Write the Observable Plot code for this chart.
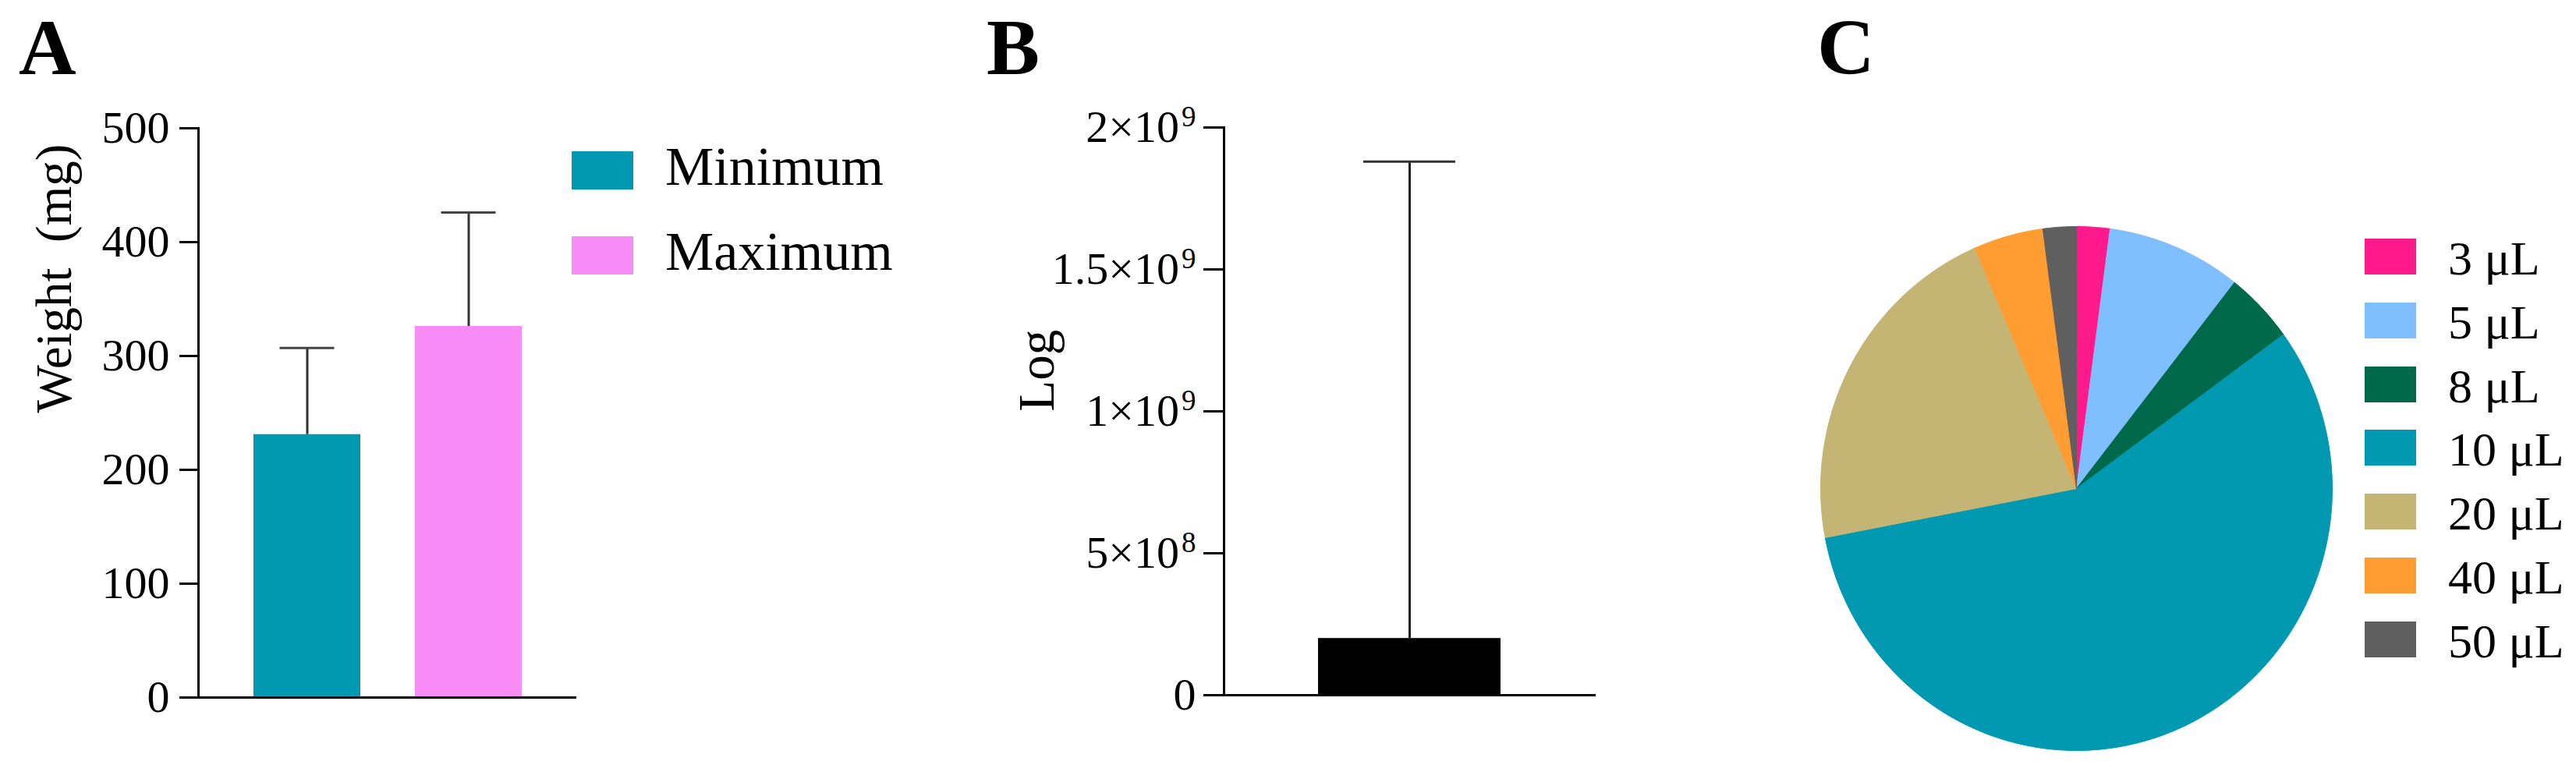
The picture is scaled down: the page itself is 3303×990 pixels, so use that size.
<!DOCTYPE html>
<html><head><meta charset="utf-8">
<script src="https://cdn.jsdelivr.net/npm/d3@7"></script>
<script src="https://cdn.jsdelivr.net/npm/@observablehq/plot@0.6"></script>
<style>
html,body{margin:0;padding:0;background:#fff;}
#page{position:relative;width:3303px;height:990px;overflow:hidden;background:#fff;font-family:"Liberation Serif","Times New Roman",serif;color:#000;}
.abs{position:absolute;}
.letter{position:absolute;font-weight:bold;font-size:102px;line-height:1;}
.sw{position:absolute;}
.lt{position:absolute;line-height:1;white-space:nowrap;}
</style></head><body><div id="page"></div>
<script>
const FONT = '"Liberation Serif","Times New Roman",serif';

// Panel A: weight
const weightGroups = ["Minimum", "Maximum"];
const weightMeans = [231, 326];
const weightSD = [76, 100];
const weightColors = ["#0099b1", "#f78cf7"];
const weightTicks = [0, 100, 200, 300, 400, 500];

// Panel B: log
const logGroups = ["Log"];
const logMeans = [2.0e8];
const logSD = [1.68e9];
const logTicks = [0, 5e8, 1e9, 1.5e9, 2e9];
const logTickLabels = ["0", "5×10⁸", "1×10⁹", "1.5×10⁹", "2×10⁹"];

// Panel C: volumes
const volumes = ["3 μL", "5 μL", "8 μL", "10 μL", "20 μL", "40 μL", "50 μL"];
const volumeShares = [2.1, 8.5, 4.4, 57.0, 21.5, 4.4, 2.1];
const volumeColors = ["#ff1a8c", "#80bfff", "#00694a", "#0099b1", "#c4b575", "#ff9d33", "#5f5f5f"];

const page = document.getElementById("page");
function place(el, left, top) {
  const d = document.createElement("div");
  d.className = "abs";
  d.style.left = left + "px";
  d.style.top = top + "px";
  d.appendChild(el);
  page.appendChild(d);
}
function letter(t, left) {
  const d = document.createElement("div");
  d.className = "letter";
  d.textContent = t;
  d.style.left = left + "px";
  d.style.top = "10px";
  page.appendChild(d);
}

// ---- Panel A ----
const dataA = weightGroups.map((g, i) => ({group: g, mean: weightMeans[i], upper: weightMeans[i] + weightSD[i]}));
const plotA = Plot.plot({
  width: 760, height: 990,
  marginLeft: 254, marginRight: 21, marginTop: 164, marginBottom: 96,
  style: {fontFamily: FONT, fontSize: "58px", color: "#000", background: "transparent", overflow: "visible"},
  x: {domain: weightGroups, padding: 0.34, axis: null},
  y: {domain: [0, 500]},
  color: {domain: weightGroups, range: weightColors},
  marks: [
    Plot.barY(dataA, {x: "group", y: "mean", fill: "group"}),
    Plot.ruleX(dataA, {x: "group", y1: "mean", y2: "upper", stroke: "#333", strokeWidth: 3}),
    Plot.tickY(dataA, {x: "group", y: "upper", stroke: "#444", strokeWidth: 3, insetLeft: 33.5, insetRight: 33.5}),
    Plot.axisY({ticks: weightTicks, tickSize: 24, tickPadding: 13, strokeWidth: 3, label: null, tickFormat: d => String(d)}),
    Plot.frame({anchor: "left", strokeWidth: 3}),
    Plot.ruleY([0], {strokeWidth: 3}),
    Plot.text(["Weight\u00a0\u00a0(mg)"], {text: d => d, frameAnchor: "left", dx: -184, rotate: -90, fontSize: 65})
  ]
});
place(plotA, 0, 0);
letter("A", 24);

// legend A
weightGroups.forEach((g, i) => {
  const sw = document.createElement("div");
  sw.className = "sw";
  sw.style.cssText = `left:733px;top:${194 + i * 108.5}px;width:79px;height:49px;background:${weightColors[i]};`;
  page.appendChild(sw);
  const t = document.createElement("div");
  t.className = "lt";
  t.style.cssText = `left:853px;top:${179.4 + i * 108.5}px;font-size:70px;`;
  t.textContent = g;
  page.appendChild(t);
});

// ---- Panel B ----
const dataB = logGroups.map((g, i) => ({group: g, mean: logMeans[i], upper: logMeans[i] + logSD[i]}));
const plotB = Plot.plot({
  width: 920, height: 990,
  marginLeft: 419, marginRight: 24, marginTop: 163, marginBottom: 99,
  style: {fontFamily: FONT, fontSize: "58px", color: "#000", background: "transparent", overflow: "visible"},
  x: {domain: logGroups, padding: 0.34, axis: null},
  y: {domain: [0, 2e9]},
  marks: [
    Plot.barY(dataB, {x: "group", y: "mean", fill: "#000"}),
    Plot.ruleX(dataB, {x: "group", y1: "mean", y2: "upper", stroke: "#222", strokeWidth: 3}),
    Plot.tickY(dataB, {x: "group", y: "upper", stroke: "#333", strokeWidth: 3, insetLeft: 58, insetRight: 58}),
    Plot.axisY({ticks: logTicks, tickSize: 26, tickPadding: 10, strokeWidth: 3, label: null,
      tickFormat: d => logTickLabels[logTicks.indexOf(d)]}),
    Plot.frame({anchor: "left", strokeWidth: 3}),
    Plot.ruleY([0], {strokeWidth: 3}),
    Plot.text(["Log"], {text: d => d, frameAnchor: "left", dx: -239, rotate: -90, fontSize: 65})
  ]
});
// render superscript exponents larger, as in the original figure
const supMap = {"⁰":"0","¹":"1","²":"2","³":"3","⁴":"4","⁵":"5","⁶":"6","⁷":"7","⁸":"8","⁹":"9"};
plotB.querySelectorAll("text").forEach(t => {
  const s = t.textContent;
  const m = s.match(/^(.*?)([⁰¹²³⁴⁵⁶⁷⁸⁹]+)$/);
  if (!m || t.children.length) return;
  t.textContent = m[1];
  const ts = document.createElementNS("http://www.w3.org/2000/svg", "tspan");
  ts.setAttribute("font-size", "37px");
  ts.setAttribute("dy", "-0.55em");
  ts.setAttribute("dx", "3");
  ts.textContent = [...m[2]].map(c => supMap[c]).join("");
  t.appendChild(ts);
});
place(plotB, 1150, 0);
letter("B", 1265);

// ---- Panel C ----
const arcs = d3.pie().sort(null).value(d => d.share)(volumes.map((v, i) => ({volume: v, share: volumeShares[i]})));
const slicePts = arcs.flatMap(a => {
  const n = Math.max(2, Math.ceil((a.endAngle - a.startAngle) / (Math.PI / 360)));
  const pts = [{volume: a.data.volume, x: 0, y: 0}];
  for (let k = 0; k <= n; k++) {
    const t = a.startAngle + (a.endAngle - a.startAngle) * k / n;
    pts.push({volume: a.data.volume, x: Math.sin(t), y: Math.cos(t)});
  }
  return pts;
});
const plotC = Plot.plot({
  width: 676, height: 692, margin: 10,
  style: {background: "transparent", overflow: "visible"},
  x: {domain: [-1, 1], axis: null},
  y: {domain: [-1, 1], axis: null},
  color: {domain: volumes, range: volumeColors},
  marks: [
    Plot.line(slicePts, {x: "x", y: "y", z: "volume", fill: "volume", stroke: "volume", strokeWidth: 1, curve: "linear-closed"})
  ]
});
place(plotC, 2324, 280);
letter("C", 2330);

// legend C
volumes.forEach((v, i) => {
  const sw = document.createElement("div");
  sw.className = "sw";
  sw.style.cssText = `left:3032px;top:${306 + i * 81.8}px;width:66px;height:46px;background:${volumeColors[i]};`;
  page.appendChild(sw);
  const t = document.createElement("div");
  t.className = "lt";
  t.style.cssText = `left:3139px;top:${300 + i * 81.8}px;font-size:62px;`;
  t.textContent = v;
  page.appendChild(t);
});
</script>
</body></html>
